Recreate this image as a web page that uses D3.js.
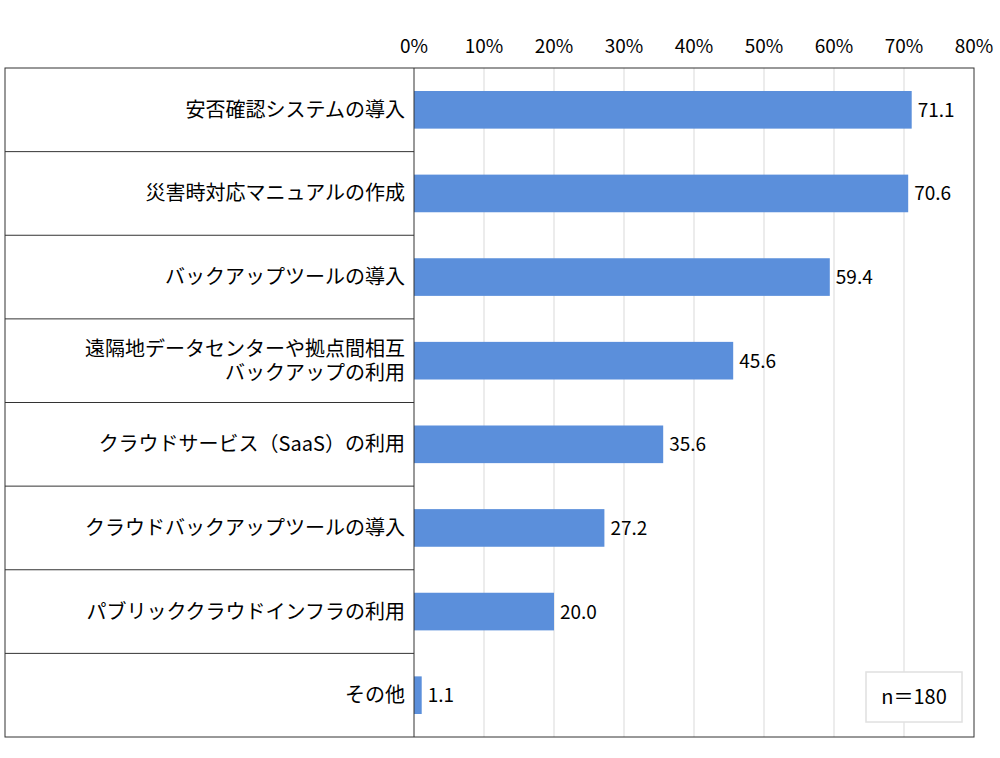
<!doctype html>
<html lang='ja'>
<head>
<meta charset='UTF-8'>
<style>
  body { margin: 0; background: #fff; }
  text { font-family: 'Noto Sans CJK JP', sans-serif; fill: #000; }
</style>
</head>
<body>
<script src='https://d3js.org/d3.v7.min.js'></script>
<script>
  const categories = [
    ['安否確認システムの導入'],
    ['災害時対応マニュアルの作成'],
    ['バックアップツールの導入'],
    ['遠隔地データセンターや拠点間相互', 'バックアップの利用'],
    ['クラウドサービス（SaaS）の利用'],
    ['クラウドバックアップツールの導入'],
    ['パブリッククラウドインフラの利用'],
    ['その他']
  ]
  const values = [71.1, 70.6, 59.4, 45.6, 35.6, 27.2, 20.0, 1.1]
  const ticks = [0, 10, 20, 30, 40, 50, 60, 70, 80]
  const note = 'n＝180'

  const frameLeft = 5, x0 = 414, x1 = 974, frameTop = 68, frameBottom = 737

  const svg = d3.select('body').append('svg')
    .attr('width', 1000).attr('height', 758)

  const xScale = d3.scaleLinear().domain([0, 80]).range([x0, x1])
  const yScale = d3.scaleBand().domain(d3.range(values.length))
    .range([frameTop, frameBottom]).paddingInner(0.55).paddingOuter(0.275)
  const rowScale = d3.scaleBand().domain(d3.range(values.length)).range([frameTop, frameBottom])

  // gridlines
  svg.append('g').selectAll('line').data(ticks.slice(1, -1)).enter().append('line')
    .attr('x1', d => xScale(d)).attr('x2', d => xScale(d))
    .attr('y1', frameTop).attr('y2', frameBottom)
    .attr('stroke', '#d9d9d9')

  // top axis labels
  svg.append('g').selectAll('text').data(ticks).enter().append('text')
    .attr('x', d => xScale(d)).attr('y', 53)
    .attr('text-anchor', 'middle').attr('font-size', 19)
    .text(d => d + '%')

  // bars
  svg.append('g').selectAll('rect').data(values).enter().append('rect')
    .attr('x', x0).attr('y', (d, i) => yScale(i))
    .attr('width', d => xScale(d) - x0).attr('height', yScale.bandwidth())
    .attr('fill', '#5b8fdb')

  svg.append('g').selectAll('text').data(values).enter().append('text')
    .attr('x', d => xScale(d) + 6).attr('y', (d, i) => yScale(i) + yScale.bandwidth() / 2 + 7)
    .attr('font-size', 19).text(d => d.toFixed(1))

  // label rows
  svg.append('g').selectAll('line').data(d3.range(1, values.length)).enter().append('line')
    .attr('x1', frameLeft).attr('x2', x0)
    .attr('y1', d => rowScale(d)).attr('y2', d => rowScale(d))
    .attr('stroke', '#333')

  const labels = svg.append('g').selectAll('text').data(categories).enter().append('text')
    .attr('text-anchor', 'end').attr('font-size', 20)
  labels.each(function (lines, i) {
    const cy = rowScale(i) + rowScale.bandwidth() / 2
    lines.forEach((t, j) => {
      d3.select(this).append('tspan')
        .attr('x', 405)
        .attr('y', cy + 7 + (j - (lines.length - 1) / 2) * 24)
        .text(t)
    })
  })

  // frame
  svg.append('rect').attr('x', frameLeft).attr('y', frameTop)
    .attr('width', x1 - frameLeft).attr('height', frameBottom - frameTop)
    .attr('fill', 'none').attr('stroke', '#333')
  svg.append('line').attr('x1', x0).attr('x2', x0).attr('y1', frameTop).attr('y2', frameBottom)
    .attr('stroke', '#333')

  // n box
  svg.append('rect').attr('x', 866).attr('y', 672).attr('width', 96).attr('height', 50)
    .attr('fill', '#fff').attr('stroke', '#e0e0e0').attr('stroke-width', 1.5)
  svg.append('text').attr('x', 914).attr('y', 704).attr('text-anchor', 'middle')
    .attr('font-size', 20).text(note)
</script>
</body>
</html>
